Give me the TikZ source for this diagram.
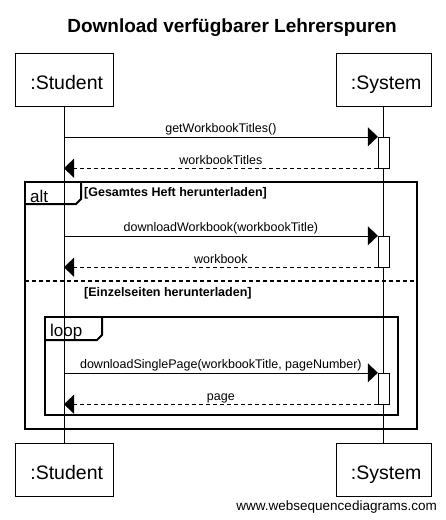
\documentclass[tikz,border=0pt]{standalone}
\usepackage{fontspec}
\setmainfont{Liberation Sans}
\usetikzlibrary{positioning,calc,arrows.meta}
\tikzset{>=Triangle,
  actor/.style={draw,minimum height=53pt,inner sep=0pt,text height=19pt,text depth=0pt,font=\fontsize{19.5}{22}\selectfont},
  act/.style={draw,fill=white,minimum width=11pt,inner sep=0pt},
  msg/.style={-{Triangle[length=10pt,width=19pt]}},
  ret/.style={msg,dash pattern=on 4pt off 3pt},
  lbl/.style={anchor=base,yshift=4pt,inner sep=0pt,font=\fontsize{12.5}{14}\selectfont},
  frame/.style={line width=2pt},
  tab/.style={anchor=base west,inner sep=0pt,font=\fontsize{17}{20}\selectfont},
  guard/.style={anchor=base west,inner sep=0pt,font=\bfseries\fontsize{12.5}{14}\selectfont}}

\begin{document}
\begin{tikzpicture}[x=1pt,y=-1pt]
\useasboundingbox (0,0) rectangle (446,520);
\node[anchor=base,font=\bfseries\fontsize{19}{22}\selectfont] (title) at (232,32) {Download verfügbarer Lehrerspuren};
% participants
\node[actor,minimum width=98pt] (stuTop) at (64,80) {~:Student};
\node[actor,minimum width=95pt] (sysTop) at (383.5,80) {~:System};
\node[actor,minimum width=98pt] (stuBot) at (64,469.5) {~:Student};
\node[actor,minimum width=95pt] (sysBot) at (383.5,469.5) {~:System};
\draw (stuTop) -- (stuBot);
\draw (sysTop) -- (sysBot);
% alt frame
\draw[frame] (25,182) rectangle (417,429);
\draw[frame] (25,204) -- (76,204) -- (81,199) -- (81,182);
\node[tab] (altLbl) at (30,202) {alt};
\node[guard] (guardA) at (84,196) {[Gesamtes Heft herunterladen]};
\draw[frame,dash pattern=on 4pt off 3pt] (25,281) -- (417,281);
\node[guard] (guardB) at (84,296) {[Einzelseiten herunterladen]};
% loop frame
\draw[frame] (45,317) rectangle (398,415);
\draw[frame] (45,340) -- (97,340) -- (102,335) -- (102,317);
\node[tab] (loopLbl) at (50,336) {loop};
% messages
\node[act,minimum height=31pt] (act1) at (383.5,152.5) {};
\node[act,minimum height=31pt] (act2) at (383.5,251.5) {};
\node[act,minimum height=31pt] (act3) at (383.5,388.5) {};
\draw[msg] (stuTop |- act1.north west) -- node[lbl] {getWorkbookTitles()} (act1.north west);
\draw[ret] (act1.south west) -- node[lbl] {workbookTitles} (stuTop |- act1.south west);
\draw[msg] (stuTop |- act2.north west) -- node[lbl] {downloadWorkbook(workbookTitle)} (act2.north west);
\draw[ret] (act2.south west) -- node[lbl] {workbook} (stuTop |- act2.south west);
\draw[msg] (stuTop |- act3.north west) -- node[lbl] {downloadSinglePage(workbookTitle, pageNumber)} (act3.north west);
\draw[ret] (act3.south west) -- node[lbl] {page} (stuTop |- act3.south west);
\node[anchor=base east,inner sep=0pt,font=\fontsize{13.5}{16}\selectfont] (footer) at (437,510) {www.websequencediagrams.com};
\end{tikzpicture}
\end{document}
